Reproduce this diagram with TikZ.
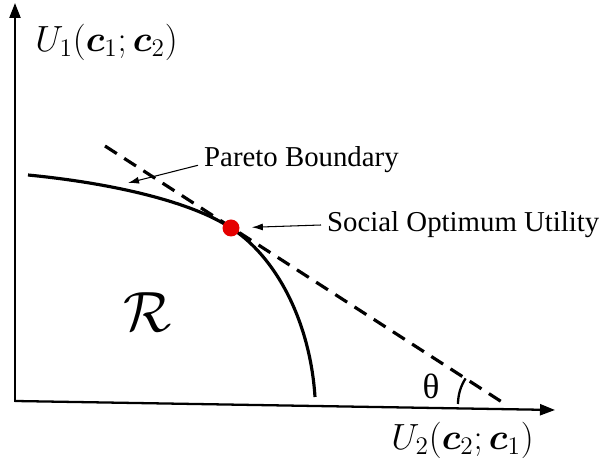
\documentclass[tikz,border=0pt]{standalone}
\usepackage{amsmath,amssymb,bm}
\usepackage{fontspec}
\setmainfont{Liberation Serif}
\usetikzlibrary{arrows.meta}

\begin{document}
\begin{tikzpicture}[x=0.02cm, y=-0.02cm, every node/.style={font=\fontsize{16.4}{19}\selectfont},
	axis/.style={line width=1.3pt, -{Triangle[length=3mm,width=2.2mm]}},
	mathlab/.style={anchor=west, inner sep=0pt, font=\fontsize{21}{25}\selectfont},
	lblarrow/.style={line width=0.6pt, -{Latex[length=2.2mm,width=1.4mm]}}]
	\useasboundingbox (0,0) rectangle (602,472);
	\coordinate (origin) at (15,401);
	\coordinate (xend) at (555,410);
	\coordinate (yend) at (15,3);
	\draw[axis] (origin) -- (xend);
	\draw[axis] ([yshift=-0.65pt]origin) -- (yend);
	\node[mathlab] (ulab) at (35,42) {$U_1(\bm{c}_1;\bm{c}_2)$};
	\node[mathlab] (vlab) at (391,440) {$U_2(\bm{c}_2;\bm{c}_1)$};
	% Pareto boundary and tangent line
	\coordinate (tanA) at (105,146);
	\coordinate (tanB) at (505,404);
	\draw[line width=1.8pt, dash pattern=on 8pt off 5pt] (tanA) -- (tanB);
	\draw[line width=1.8pt] (28,175) .. controls (110,183) and (190,201) .. (231,228)
		.. controls (275,256) and (310,320) .. (315,397);
	\node[circle, fill=red!90!black, inner sep=0pt, minimum size=3.4mm] (opt) at (231,228) {};
	\node[font=\fontsize{24.88}{30}\selectfont, scale=1.3] (region) at (148,312) {$\mathcal{R}$};
	\draw[line width=1.3pt] ([xshift=-0.94cm]tanB) arc (180:213:47);
	\node[font=\fontsize{20}{24}\selectfont] (theta) at (431,386) {θ};
	% labels
	\node[anchor=west] (pareto) at (198,160) {Pareto Boundary};
	\coordinate (paretotip) at (128,183);
	\draw[lblarrow] ([yshift=-3pt]pareto.west) -- (paretotip);
	\node[anchor=west] (social) at (321,225) {Social Optimum Utility};
	\draw[lblarrow, shorten >=2.4mm] (social.west) -- (opt);
\end{tikzpicture}
\end{document}
